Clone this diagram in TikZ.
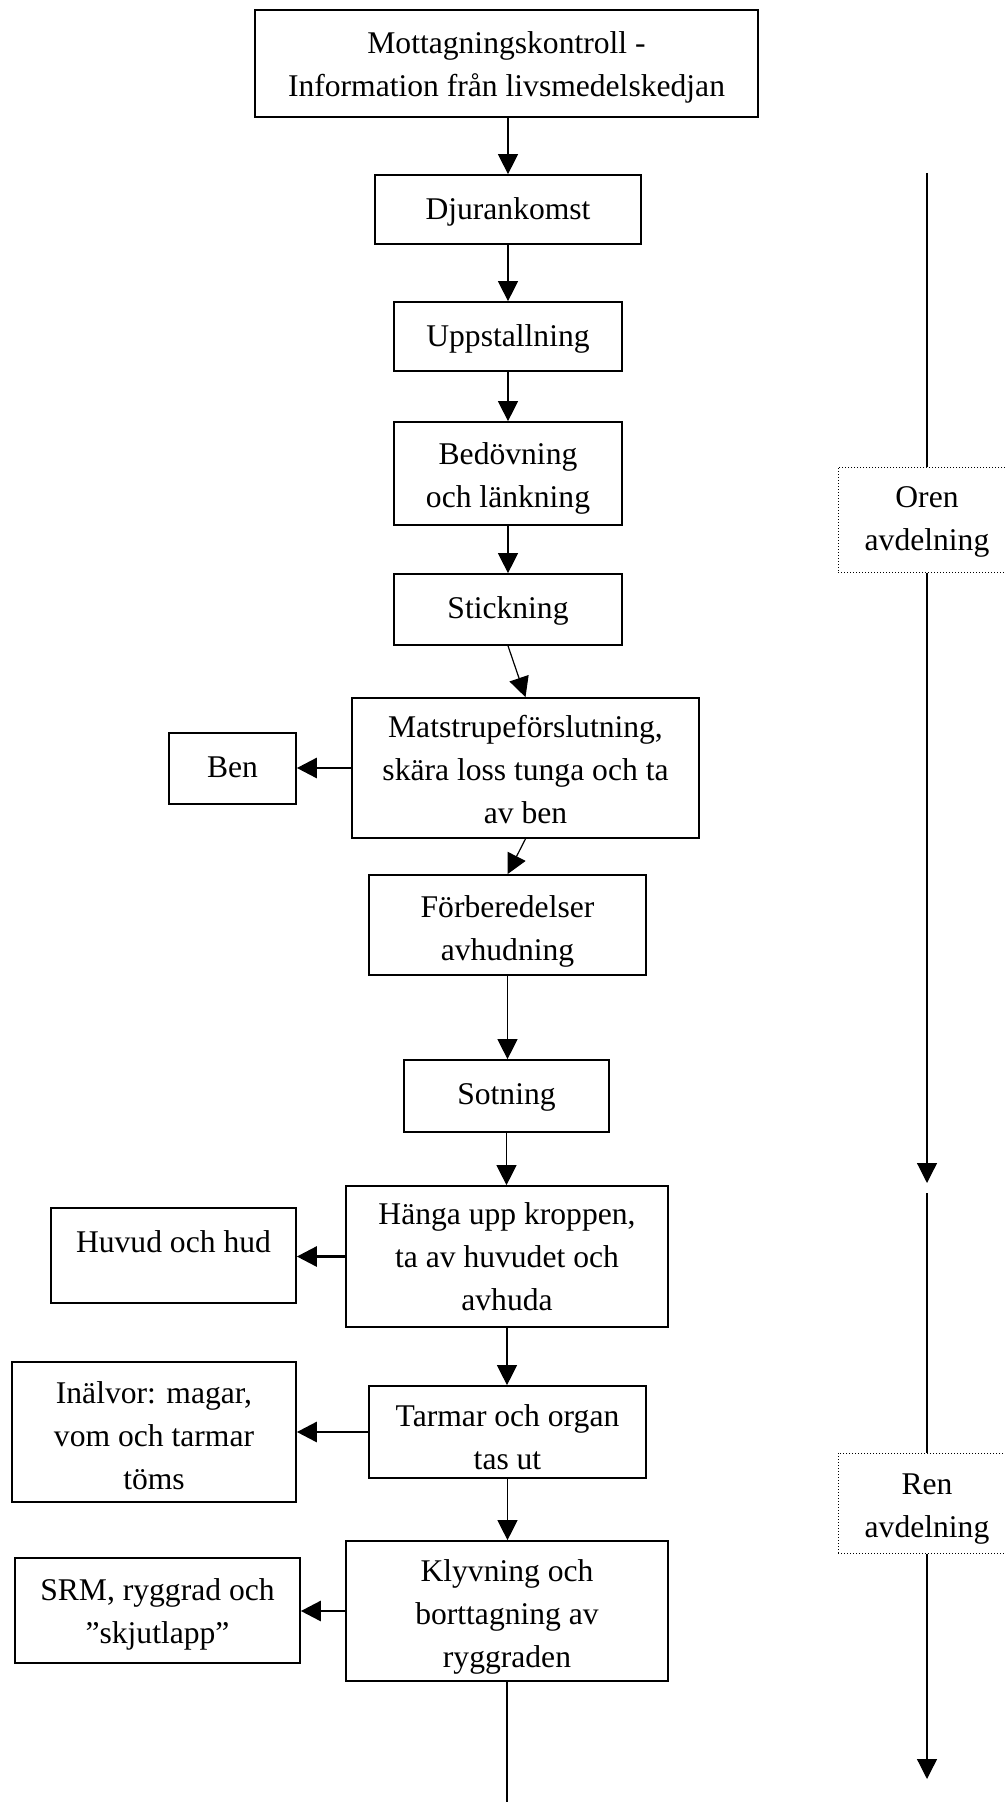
\documentclass[tikz,border=0pt]{standalone}
\usepackage{fontspec}
\setmainfont{Liberation Serif}
\usetikzlibrary{arrows.meta,fit}
\begin{document}
\begin{tikzpicture}[x=0.5pt,y=-0.5pt,
  stepbox/.style={draw, line width=0.85pt, inner sep=0pt, rectangle},
  zonebox/.style={draw, densely dotted, line width=0.5pt, inner sep=0pt, rectangle},
  boxtext/.style={anchor=north, inner sep=0pt, align=center,
    font=\fontsize{15.8pt}{21.5pt}\selectfont},
  flow/.style={line width=0.6pt, -{Triangle[length=10pt,width=10pt]}},
  sideflow/.style={line width=1.4pt, -{Triangle[length=10pt,width=10pt]}},
  plainline/.style={line width=0.6pt}
]
\path[use as bounding box, fill=white] (0,0) rectangle (1005,1802);

% main process chain
\node[stepbox, fit={(255,10) (758,117)}] (mk) {};
\node[boxtext] (mk-t) at ([yshift=-11pt]mk.north) {Mottagningskontroll -\\Information från livsmedelskedjan};
\node[stepbox, fit={(375,175) (641,244)}] (dj) {};
\node[boxtext] (dj-t) at ([yshift=-11.7pt]dj.north) {Djurankomst};
\node[stepbox, fit={(394,302) (622,371)}] (up) {};
\node[boxtext] (up-t) at ([yshift=-11.3pt]up.north) {Uppstallning};
\node[stepbox, fit={(394,422) (622,525)}] (bd) {};
\node[boxtext] (bd-t) at ([yshift=-10.6pt]bd.north) {Bedövning\\och länkning};
\node[stepbox, fit={(394,574) (622,645)}] (st) {};
\node[boxtext] (st-t) at ([yshift=-11.7pt]st.north) {Stickning};
\node[stepbox, fit={(352,698) (699,838)}] (ms) {};
\node[boxtext] (ms-t) at ([yshift=-8.8pt]ms.north) {Matstrupeförslutning,\\skära loss tunga och ta\\av ben};
\node[stepbox, fit={(369,875) (646,975)}] (fb) {};
\node[boxtext] (fb-t) at ([yshift=-10.4pt]fb.north) {Förberedelser\\avhudning};
\node[stepbox, fit={(404,1060) (609,1132)}] (so) {};
\node[boxtext] (so-t) at ([yshift=-12pt]so.north) {Sotning};
\node[stepbox, fit={(346,1186) (668,1327)}] (hg) {};
\node[boxtext] (hg-t) at ([yshift=-8.7pt]hg.north) {Hänga upp kroppen,\\ta av huvudet och\\avhuda};
\node[stepbox, fit={(369,1386) (646,1478)}] (tm) {};
\node[boxtext] (tm-t) at ([yshift=-9.6pt]tm.north) {Tarmar och organ\\tas ut};
\node[stepbox, fit={(346,1541) (668,1681)}] (kl) {};
\node[boxtext] (kl-t) at ([yshift=-9.4pt]kl.north) {Klyvning och\\borttagning av\\ryggraden};

% by-products on the left
\node[stepbox, fit={(169,733) (296,804)}] (ben) {};
\node[boxtext] (ben-t) at ([yshift=-12pt]ben.north) {Ben};
\node[stepbox, fit={(51,1208) (296,1303)}] (hh) {};
\node[boxtext] (hh-t) at ([yshift=-11.7pt]hh.north) {Huvud och hud};
\node[stepbox, fit={(12,1362) (296,1502)}] (inv) {};
\node[boxtext] (inv-t) at ([yshift=-9.9pt]inv.north) {Inälvor: magar,\\vom och tarmar\\töms};
\node[stepbox, fit={(15,1558) (300,1663)}] (srm) {};
\node[boxtext] (srm-t) at ([yshift=-10.7pt]srm.north) {SRM, ryggrad och\\”skjutlapp”};

% zones on the right
\node[zonebox, fit={(838,467) (1016,572)}] (oren) {};
\node[boxtext] (oren-t) at ([yshift=-10pt]oren.north) {Oren\\avdelning};
\node[zonebox, fit={(838,1453) (1016,1553)}] (ren) {};
\node[boxtext] (ren-t) at ([yshift=-10.5pt]ren.north) {Ren\\avdelning};

% main flow connectors
\draw[flow] (dj.north |- mk.south) -- (dj.north);
\draw[flow] (dj.south) -- (up.north);
\draw[flow] (up.south) -- (bd.north);
\draw[flow] (bd.south) -- (st.north);
\draw[flow] (st.south) -- (ms.north);
\draw[flow] (ms.south) -- (fb.north);
\draw[flow] (fb.south) -- (fb.south |- so.north);
\draw[flow] (so.south) -- (so.south |- hg.north);
\draw[flow] (hg.south) -- (hg.south |- tm.north);
\draw[flow] (tm.south) -- (tm.south |- kl.north);
\coordinate (kend) at (507,1802);
\draw[plainline] (kl.south) -- (kend);

% side outputs
\draw[sideflow] (ms.west) -- (ms.west -| ben.east);
\draw[sideflow] (hg.west) -- (hg.west -| hh.east);
\draw[sideflow] (tm.west) -- (tm.west -| inv.east);
\draw[sideflow] (kl.west) -- (kl.west -| srm.east);

% zone lines
\coordinate (ztop) at (927,173);
\coordinate (zarr1) at (927,1183);
\coordinate (zmid) at (927,1193);
\coordinate (zarr2) at (927,1779);
\draw[plainline] (ztop) -- (oren.north);
\draw[flow] (oren.south) -- (zarr1);
\draw[plainline] (zmid) -- (ren.north);
\draw[flow] (ren.south) -- (zarr2);
\end{tikzpicture}
\end{document}
